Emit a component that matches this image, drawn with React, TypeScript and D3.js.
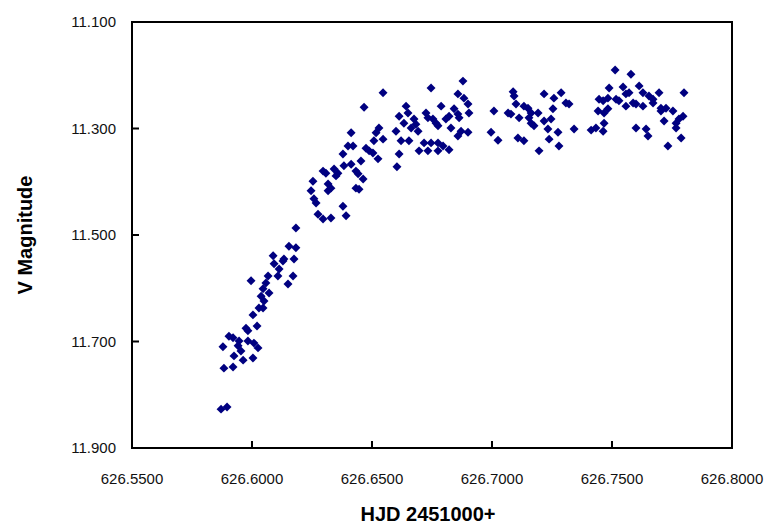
import React from "react";
import * as d3 from "d3";

const width = 784;
const height = 527;
const margin = { left: 132, right: 52, top: 22, bottom: 79 };

// HJD - 2451000 (days)
const hjd = [
  626.6267, 626.6275, 626.6296, 626.6329, 626.6183, 626.6154, 626.6183, 626.6133, 626.6175, 626.6088,
  626.6092, 626.6113, 626.6129, 626.6108, 626.6171, 626.615, 626.5996, 626.6067, 626.6058, 626.6046,
  626.6071, 626.6038, 626.605, 626.6029, 626.6046, 626.6004, 626.5975, 626.6021, 626.5983, 626.5904,
  626.5921, 626.5946, 626.5879, 626.5942, 626.5983, 626.6008, 626.6025, 626.5954, 626.5925, 626.5963,
  626.6004, 626.5883, 626.5921, 626.5871, 626.5896,
  626.6413, 626.64, 626.6421, 626.6379, 626.6383, 626.6413, 626.6433, 626.6442, 626.6433, 626.6446,
  626.6296, 626.6308, 626.6342, 626.6358, 626.635, 626.6254, 626.6317, 626.6329, 626.6317, 626.6246,
  626.6258, 626.6379, 626.6392, 626.6454, 626.6463,
  626.6879, 626.6746, 626.6546, 626.6858, 626.6883, 626.69, 626.6788, 626.6467, 626.6642, 626.665,
  626.6613, 626.6633, 626.6675, 626.6683, 626.6663, 626.6692, 626.6725, 626.6733, 626.6754, 626.6767,
  626.6775, 626.6808, 626.6821, 626.6829, 626.6842, 626.6858, 626.6863, 626.6904, 626.6871, 626.69,
  626.6858, 626.66, 626.6621, 626.6654, 626.6717, 626.6746, 626.6775, 626.6796, 626.6696, 626.6733,
  626.6775, 626.6821, 626.6529, 626.6517, 626.6508, 626.6546, 626.6475, 626.6488, 626.6504, 626.6525,
  626.6613, 626.6604,
  626.7088, 626.7092, 626.7217, 626.7258, 626.7288, 626.7308, 626.7321, 626.71, 626.7133, 626.715,
  626.7008, 626.7067, 626.7079, 626.7113, 626.7163, 626.7192, 626.7154, 626.7163, 626.7175, 626.7217,
  626.7246, 626.7254, 626.7233, 626.7275, 626.7238, 626.7279, 626.7196, 626.7108, 626.7133, 626.6996,
  626.7025, 626.7342, 626.7413, 626.7433, 626.7446, 626.7442,
  626.7513, 626.7579, 626.7488, 626.7546, 626.7613, 626.7629, 626.7571, 626.7558, 626.7696, 626.78,
  626.7654, 626.7671, 626.7483, 626.7517, 626.7529, 626.7463, 626.7588, 626.76, 626.7629, 626.7558,
  626.7483, 626.7467, 626.7671, 626.7704, 626.7725, 626.7704, 626.7754, 626.7796, 626.7779, 626.7767,
  626.7717, 626.7467, 626.7463, 626.76, 626.7642, 626.765, 626.7767, 626.7788, 626.7733,
];

const vMag = [
  11.44, 11.461, 11.47, 11.468, 11.487, 11.521, 11.524, 11.545, 11.545, 11.539,
  11.554, 11.564, 11.549, 11.577, 11.577, 11.592, 11.586, 11.577, 11.59, 11.601,
  11.609, 11.615, 11.624, 11.637, 11.637, 11.65, 11.675, 11.671, 11.68, 11.69,
  11.693, 11.699, 11.71, 11.708, 11.699, 11.703, 11.712, 11.718, 11.727, 11.735,
  11.731, 11.75, 11.748, 11.827, 11.823,
  11.308, 11.333, 11.333, 11.348, 11.37, 11.367, 11.38, 11.385, 11.412, 11.414,
  11.38, 11.384, 11.376, 11.384, 11.389, 11.399, 11.404, 11.412, 11.417, 11.417,
  11.432, 11.446, 11.464, 11.361, 11.395,
  11.211, 11.224, 11.233, 11.235, 11.243, 11.254, 11.258, 11.26, 11.258, 11.271,
  11.277, 11.29, 11.282, 11.292, 11.299, 11.305, 11.271, 11.28, 11.282, 11.29,
  11.295, 11.282, 11.277, 11.299, 11.263, 11.273, 11.28, 11.271, 11.305, 11.307,
  11.314, 11.305, 11.323, 11.323, 11.327, 11.327, 11.327, 11.333, 11.342, 11.342,
  11.342, 11.34, 11.299, 11.308, 11.323, 11.32, 11.337, 11.342, 11.346, 11.357,
  11.348, 11.372,
  11.231, 11.239, 11.235, 11.243, 11.233, 11.252, 11.254, 11.254, 11.258, 11.262,
  11.267, 11.271, 11.273, 11.28, 11.271, 11.271, 11.28, 11.29, 11.295, 11.286,
  11.282, 11.263, 11.301, 11.307, 11.32, 11.333, 11.342, 11.318, 11.323, 11.307,
  11.322, 11.301, 11.303, 11.299, 11.245, 11.267,
  11.19, 11.198, 11.224, 11.222, 11.22, 11.233, 11.233, 11.235, 11.233, 11.233,
  11.239, 11.245, 11.243, 11.245, 11.248, 11.248, 11.252, 11.254, 11.258, 11.258,
  11.263, 11.271, 11.252, 11.262, 11.262, 11.267, 11.267, 11.277, 11.282, 11.29,
  11.286, 11.29, 11.305, 11.299, 11.301, 11.314, 11.299, 11.318, 11.333,
];

const xTicks = [626.55, 626.6, 626.65, 626.7, 626.75, 626.8];
const yTicks = [11.1, 11.3, 11.5, 11.7, 11.9];

const font = "'Liberation Sans', Arial, sans-serif";

export default function App() {
  const x = d3
    .scaleLinear()
    .domain([626.55, 626.8])
    .range([margin.left, width - margin.right]);
  const y = d3
    .scaleLinear()
    .domain([11.1, 11.9])
    .range([margin.top, height - margin.bottom]);

  // excel style diamond = square turned 45deg
  const diamond = d3.symbol(d3.symbolSquare, 40)();
  const [x0, x1] = x.range();
  const [y0, y1] = y.range();

  return (
    <svg
      width={width}
      height={height}
      style={{ position: "absolute", left: 0, top: 0, background: "#fff" }}
      fontFamily={font}
    >
      {hjd.map((d, i) => (
        <path
          key={i}
          d={diamond}
          transform={`translate(${x(d)},${y(vMag[i])}) rotate(45)`}
          fill="#000080"
        />
      ))}

      <rect x={x0} y={y0} width={x1 - x0} height={y1 - y0} fill="none" stroke="#000" strokeWidth={2} />

      {yTicks.map((t, i) => (
        <g key={i}>
          {i > 0 && i < yTicks.length - 1 && (
            <line x1={x0} x2={x0 + 7} y1={y(t)} y2={y(t)} stroke="#000" strokeWidth={2} />
          )}
          <text x={x0 - 16} y={y(t)} dy="0.35em" textAnchor="end" fontSize={15} fill="#111">
            {d3.format(".3f")(t)}
          </text>
        </g>
      ))}

      {xTicks.map((t, i) => (
        <g key={i}>
          {i > 0 && i < xTicks.length - 1 && (
            <line x1={x(t)} x2={x(t)} y1={y1} y2={y1 - 7} stroke="#000" strokeWidth={2} />
          )}
          <text x={x(t)} y={y1 + 36} textAnchor="middle" fontSize={15} fill="#111">
            {d3.format(".4f")(t)}
          </text>
        </g>
      ))}

      <text x={428} y={521} textAnchor="middle" fontSize={20} fontWeight="bold">
        HJD 2451000+
      </text>
      <text
        transform={`translate(32,${(y0 + y1) / 2}) rotate(-90)`}
        textAnchor="middle"
        fontSize={20}
        fontWeight="bold"
      >
        V Magnitude
      </text>
    </svg>
  );
}
